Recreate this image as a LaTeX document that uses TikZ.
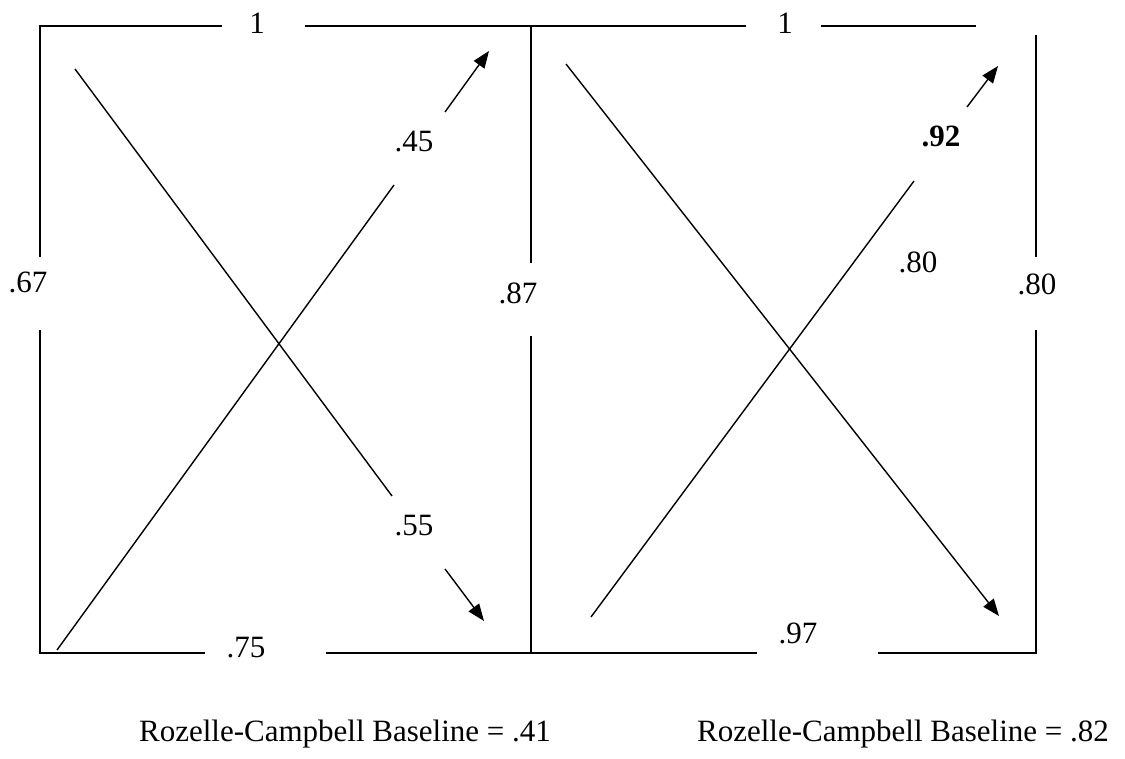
\documentclass[tikz,border=0pt]{standalone}
\usepackage{fontspec}
\setmainfont{Liberation Serif}
\usetikzlibrary{arrows.meta}
\begin{document}
\begin{tikzpicture}[x=1pt,y=-1pt,
  frame/.style={line width=2.2pt},
  diag/.style={line width=1.4pt},
  arr/.style={line width=1.4pt,-{Triangle[length=17pt,width=13pt]}},
  lbl/.style={anchor=base,inner sep=0pt,font=\fontsize{31}{36}\selectfont},
  every node/.style={inner sep=0pt}]
\useasboundingbox (0,0) rectangle (1125,759);
% frame coordinates
\coordinate (TL) at (40,26);
\coordinate (TM) at (531,26);
\coordinate (BL) at (40,653);
\coordinate (BM) at (531,653);
\coordinate (BR) at (1036,653);
\coordinate (t1a) at (222,26);
\coordinate (t1b) at (305,26);
\coordinate (t2a) at (746,26);
\coordinate (t2b) at (821,26);
\coordinate (t2c) at (976,26);
\coordinate (l1) at (40,257);
\coordinate (l2) at (40,330);
\coordinate (m1) at (531,263);
\coordinate (m2) at (531,336);
\coordinate (r0) at (1036,35);
\coordinate (r1) at (1036,257);
\coordinate (r2) at (1036,330);
\coordinate (b1a) at (205,653);
\coordinate (b1b) at (326,653);
\coordinate (b2a) at (757,653);
\coordinate (b2b) at (878,653);
% frame
\draw[frame] (l1) -- (TL) -- (t1a);
\draw[frame] (t1b) -- (TM) -- (t2a);
\draw[frame] (t2b) -- (t2c);
\draw[frame] (l2) -- (BL) -- (b1a);
\draw[frame] (b1b) -- (BM) -- (b2a);
\draw[frame] (b2b) -- (BR) -- (r2);
\draw[frame] (r0) -- (r1);
\draw[frame] (TM) -- (m1);
\draw[frame] (m2) -- (BM);
% frame labels
\node[lbl] (n1a) at (257,34) {1};
\node[lbl] (n1b) at (785,34) {1};
\node[lbl] (n67) at (28,293) {.67};
\node[lbl] (n87) at (518,304) {.87};
\node[lbl] (n80r) at (1037,295) {.80};
\node[lbl] (n75) at (246,657) {.75};
\node[lbl] (n97) at (798,643) {.97};
% left panel diagonals
\coordinate (a1s) at (75,69);
\coordinate (a1e) at (392,496);
\coordinate (a2s) at (445,569);
\coordinate (a2e) at (484,621);
\coordinate (c1s) at (57,650);
\coordinate (c1e) at (394,185);
\coordinate (c2s) at (445,112);
\coordinate (c2e) at (489,51);
\draw[diag] (a1s) -- (a1e);
\draw[arr] (a2s) -- (a2e);
\draw[diag] (c1s) -- (c1e);
\draw[arr] (c2s) -- (c2e);
\node[lbl] (n45) at (414,152) {.45};
\node[lbl] (n55) at (414,535) {.55};
% right panel diagonals
\coordinate (d1s) at (566,64);
\coordinate (d1e) at (999,616);
\coordinate (e1s) at (591,617);
\coordinate (e1e) at (914,181);
\coordinate (e2s) at (967,107);
\coordinate (e2e) at (998,66);
\draw[arr] (d1s) -- (d1e);
\draw[diag] (e1s) -- (e1e);
\draw[arr] (e2s) -- (e2e);
\node[lbl] (n92) at (941,147) {\textbf{.92}};
\node[lbl] (n80i) at (918,273) {.80};
% baselines
\node[lbl] (rc1) at (345,741) {Rozelle-Campbell Baseline = .41};
\node[lbl] (rc2) at (903,741) {Rozelle-Campbell Baseline = .82};
\end{tikzpicture}
\end{document}
